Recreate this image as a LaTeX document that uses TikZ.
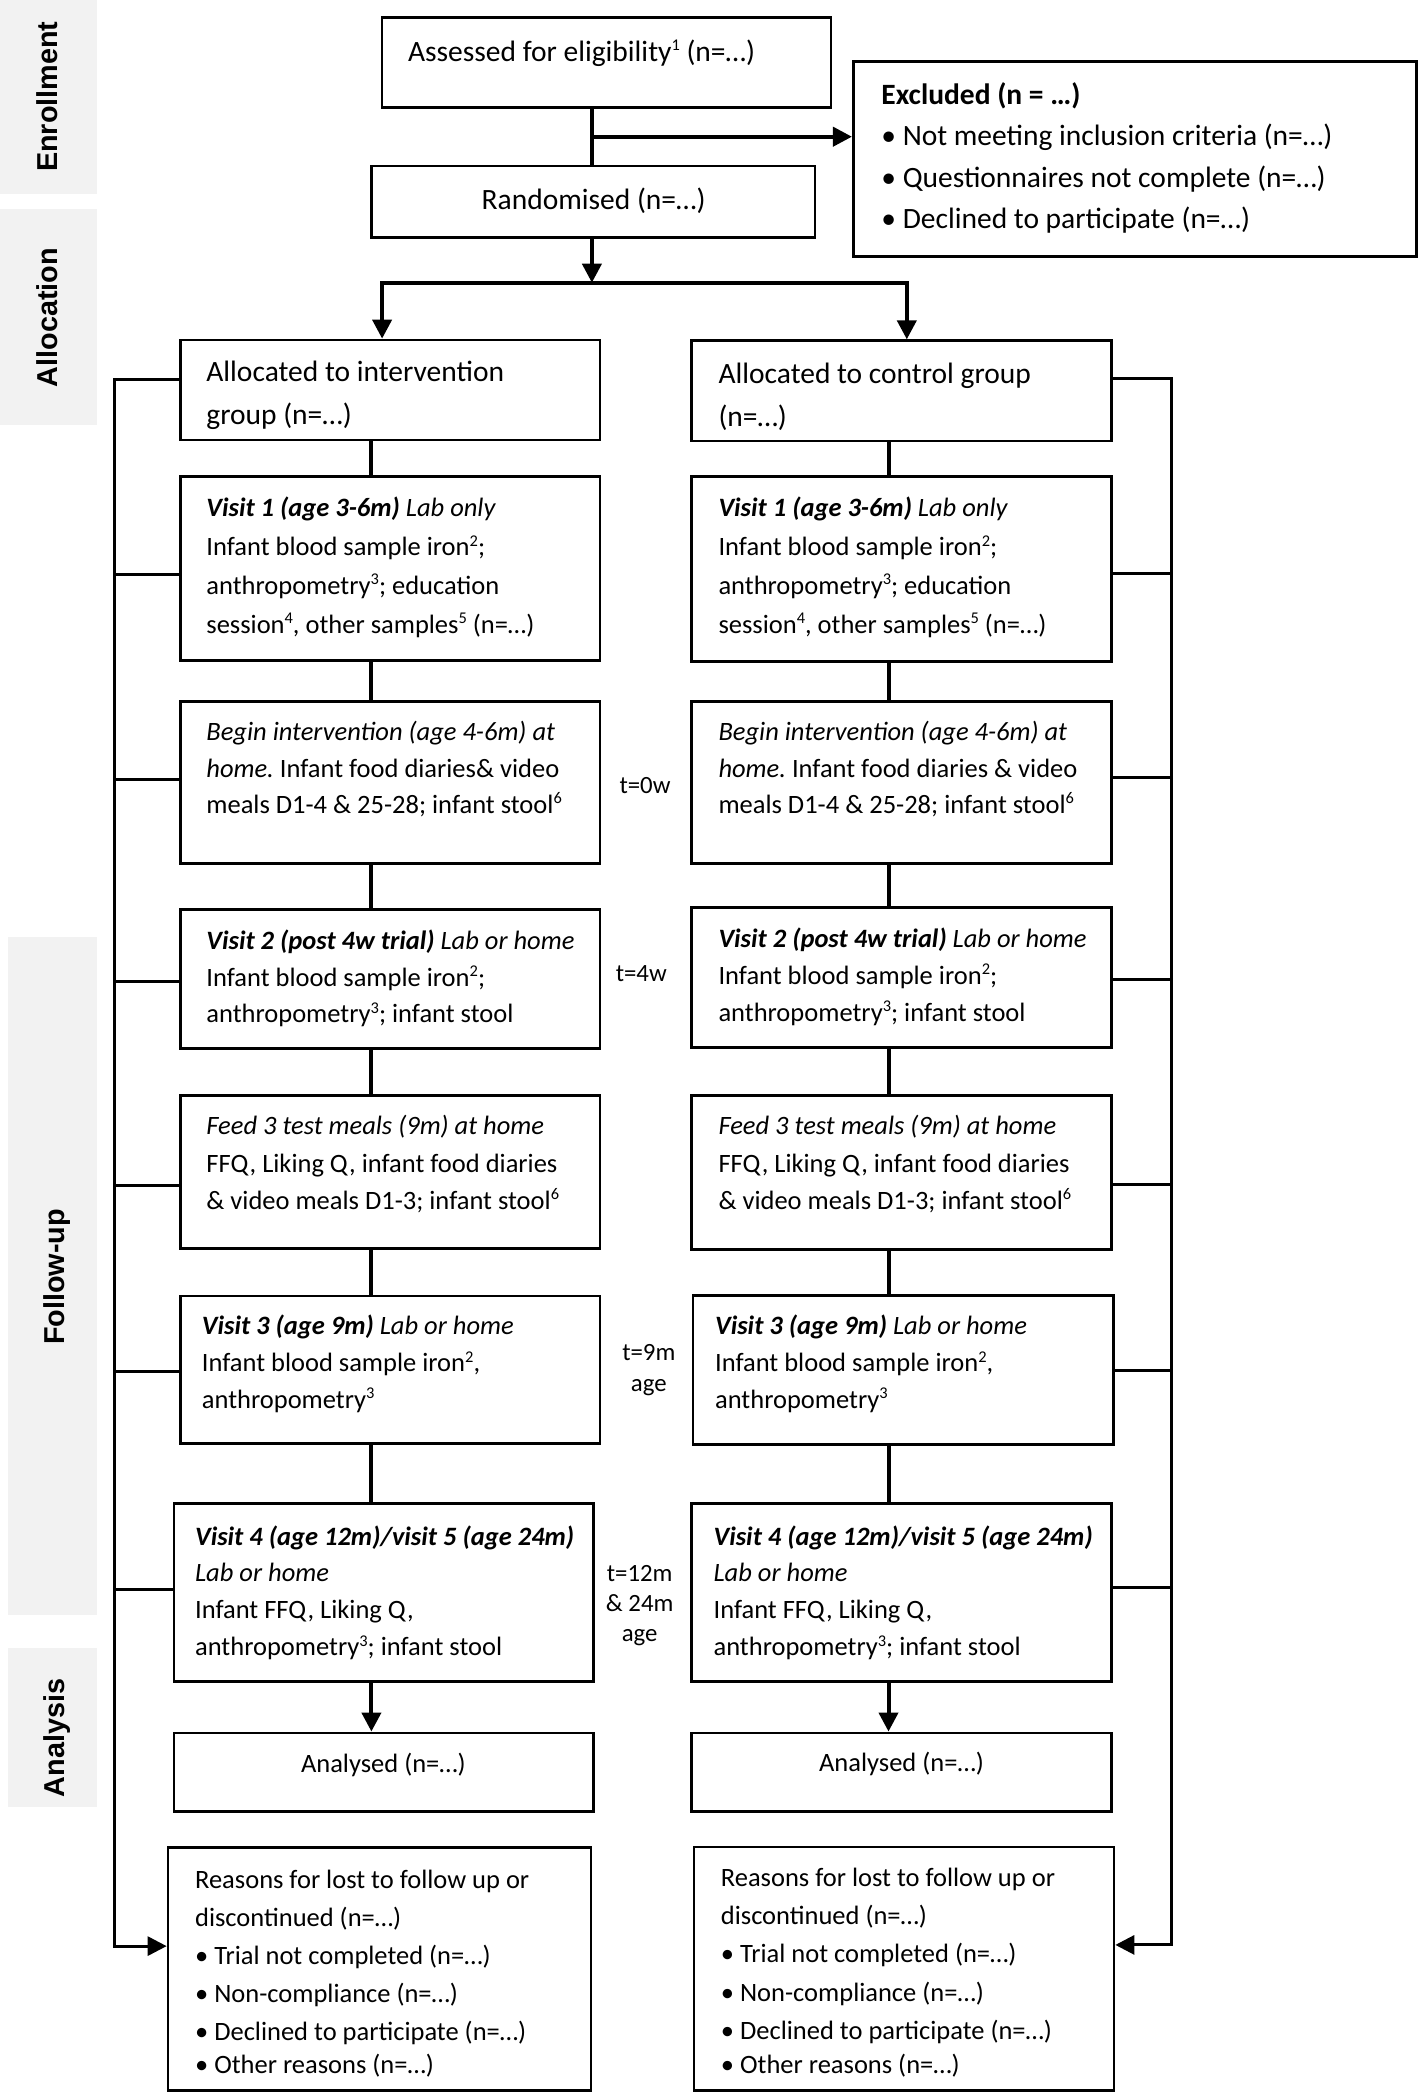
\documentclass[tikz,border=0pt]{standalone}
\usepackage{fontspec}
\setmainfont{Carlito}
\newfontfamily\sidefont{Liberation Sans}
\usetikzlibrary{arrows.meta,fit}
\definecolor{sidegray}{RGB}{242,242,242}
\newcommand\fl{\rule{0pt}{1em}}
\newcommand\su[1]{\raisebox{0.36em}{\fontsize{8.2}{8.2}\selectfont #1}}
\frenchspacing
\begin{document}
\frenchspacing
\begin{tikzpicture}[x=0.5pt,y=-0.5pt,
  box/.style={draw=black, line width=1.35pt, inner sep=0pt, rectangle},
  band/.style={fill=sidegray, draw=none, inner sep=0pt, rectangle},
  sidetxt/.style={font=\sidefont\bfseries\fontsize{14.4}{17}\selectfont, rotate=90, anchor=base, inner sep=0pt},
  bigt/.style={font=\fontsize{14.75}{#1}\selectfont\frenchspacing, align=left, anchor=north west, inner sep=0pt},
  medt/.style={font=\fontsize{13.25}{#1}\selectfont\frenchspacing, align=left, anchor=north west, inner sep=0pt},
  bigc/.style={font=\fontsize{14.75}{17}\selectfont, anchor=base, inner sep=0pt},
  medc/.style={font=\fontsize{13.25}{16}\selectfont, anchor=base, inner sep=0pt},
  timet/.style={font=\fontsize{12.4}{#1}\selectfont, align=center, anchor=north, inner sep=0pt},
  conn/.style={line width=2pt},
  tip/.tip={Triangle[width=9.5pt,length=9.5pt]},
  arr/.style={line width=2pt, -tip},
  fb/.style={line width=1.5pt},
  fbarr/.style={line width=1.5pt, -tip},
]
\useasboundingbox (0,0) rectangle (1419,2093);

% side bands
\node[band, fit={(0,0)(96.5,194)}] (enb) {};
\node[sidetxt] (ent) at (57,96.7) {Enrollment};
\node[band, fit={(0,209)(96.5,425)}] (alb) {};
\node[sidetxt] (alt) at (57,317.5) {Allocation};
\node[band, fit={(7.7,937)(96.5,1615)}] (fub) {};
\node[sidetxt] (fut) at (64,1277) {Follow-up};
\node[band, fit={(7.7,1648)(97.4,1807)}] (anb) {};
\node[sidetxt] (ant) at (64,1738) {Analysis};

% boxes
\node[box, fit={(382,17.7)(831,107.7)}] (as) {};
\node[box, fit={(853.3,61.7)(1416.5,256.7)}] (ex) {};
\node[box, fit={(371.8,166)(815,237.7)}] (ra) {};
\node[box, fit={(180.3,340)(600,440)}] (ia) {};
\node[box, fit={(691.5,340.7)(1111.7,441)}] (ca) {};
\node[box, fit={(180.3,476.6)(600,660.5)}] (iv1) {};
\node[box, fit={(691.5,476.6)(1111.7,661.5)}] (cv1) {};
\node[box, fit={(180.3,701.2)(600,863.2)}] (ib) {};
\node[box, fit={(691.5,701.2)(1111.7,863.5)}] (cb) {};
\node[box, fit={(180.3,909.3)(600,1048.3)}] (iv2) {};
\node[box, fit={(691.5,907.8)(1111.7,1047.3)}] (cv2) {};
\node[box, fit={(180.3,1095.2)(600,1248.3)}] (ifd) {};
\node[box, fit={(691.5,1095.2)(1111.7,1249.4)}] (cfd) {};
\node[box, fit={(180.3,1296.1)(600,1443.4)}] (iv3) {};
\node[box, fit={(692.9,1295.3)(1113.5,1444.2)}] (cv3) {};
\node[box, fit={(173.9,1503.3)(593.8,1681.7)}] (iv4) {};
\node[box, fit={(691.5,1503.3)(1111.6,1681.7)}] (cv4) {};
\node[box, fit={(173.9,1732.9)(593.8,1811.6)}] (ian) {};
\node[box, fit={(691.5,1732.9)(1111.6,1811.6)}] (can) {};
\node[box, fit={(168,1847.7)(591,2090.5)}] (ir) {};
\node[box, fit={(693.9,1846.9)(1114,2090.5)}] (cr) {};

% texts
\node[bigt=21.5pt] (ast) at (407.6,31.6) {\fl Assessed for eligibility\su{1} (n=…)};
\node[bigt=20.55pt] (ext) at (881,74.9) {\fl\textbf{Excluded (n = …)}\\• Not meeting inclusion criteria (n=…)\\• Questionnaires not complete (n=…)\\• Declined to participate (n=…)};
\node[bigc] (rat) at (593.6,209.7) {Randomised (n=…)};
\node[bigt=21.5pt] (iat) at (206,352) {\fl Allocated to intervention\\group (n=…)};
\node[bigt=21.5pt] (cat) at (718.1,353.9) {\fl Allocated to control group\\(n=…)};
\node[medt=19.35pt] (iv1t) at (206,490) {\fl\textbf{\textit{Visit 1 (age 3-6m)}} \textit{Lab only}\\Infant blood sample iron\su{2};\\anthropometry\su{3}; education\\session\su{4}, other samples\su{5} (n=…)};
\node[medt=19.35pt] (cv1t) at (718.1,490) {\fl\textbf{\textit{Visit 1 (age 3-6m)}} \textit{Lab only}\\Infant blood sample iron\su{2};\\anthropometry\su{3}; education\\session\su{4}, other samples\su{5} (n=…)};
\node[medt=18.2pt] (ibt) at (206,713.8) {\fl\textit{Begin intervention (age 4-6m) at}\\\textit{home.} Infant food diaries\& video\\meals D1-4 \& 25-28; infant stool\su{6}};
\node[medt=18.2pt] (cbt) at (718.1,713.8) {\fl\textit{Begin intervention (age 4-6m) at}\\\textit{home.} Infant food diaries \& video\\meals D1-4 \& 25-28; infant stool\su{6}};
\node[medt=18.45pt] (iv2t) at (206,922.2) {\fl\textbf{\textit{Visit 2 (post 4w trial)}} \textit{Lab or home}\\Infant blood sample iron\su{2};\\anthropometry\su{3}; infant stool};
\node[medt=18.45pt] (cv2t) at (718.1,920.3) {\fl\textbf{\textit{Visit 2 (post 4w trial)}} \textit{Lab or home}\\Infant blood sample iron\su{2};\\anthropometry\su{3}; infant stool};
\node[medt=18.65pt] (ifdt) at (206,1107.8) {\fl\textit{Feed 3 test meals (9m) at home}\\FFQ, Liking Q, infant food diaries\\\& video meals D1-3; infant stool\su{6}};
\node[medt=18.65pt] (cfdt) at (718.1,1107.8) {\fl\textit{Feed 3 test meals (9m) at home}\\FFQ, Liking Q, infant food diaries\\\& video meals D1-3; infant stool\su{6}};
\node[medt=18.35pt] (iv3t) at (201.5,1308) {\fl\textbf{\textit{Visit 3 (age 9m)}} \textit{Lab or home}\\Infant blood sample iron\su{2},\\anthropometry\su{3}};
\node[medt=18.35pt] (cv3t) at (714.7,1308) {\fl\textbf{\textit{Visit 3 (age 9m)}} \textit{Lab or home}\\Infant blood sample iron\su{2},\\anthropometry\su{3}};
\node[medt=18.45pt] (iv4t) at (194.7,1518.1) {\fl\textbf{\textit{Visit 4 (age 12m)/visit 5 (age 24m)}}\\\textit{Lab or home}\\Infant FFQ, Liking Q,\\anthropometry\su{3}; infant stool};
\node[medt=18.45pt] (cv4t) at (713.2,1518.1) {\fl\textbf{\textit{Visit 4 (age 12m)/visit 5 (age 24m)}}\\\textit{Lab or home}\\Infant FFQ, Liking Q,\\anthropometry\su{3}; infant stool};
\node[medc] (iant) at (383.4,1772.2) {Analysed (n=…)};
\node[medc] (cant) at (901.5,1771.7) {Analysed (n=…)};
\node[medt=18.96pt] (irt) at (194.7,1861.7) {\fl Reasons for lost to follow up or\\discontinued (n=…)\\• Trial not completed (n=…)\\• Non-compliance (n=…)\\• Declined to participate (n=…)\\[-2.15pt]• Other reasons (n=…)};
\node[medt=19.1pt] (crt) at (720.5,1859.6) {\fl Reasons for lost to follow up or\\discontinued (n=…)\\• Trial not completed (n=…)\\• Non-compliance (n=…)\\• Declined to participate (n=…)\\[-2.1pt]• Other reasons (n=…)};

% time labels
\node[timet=15.7pt] (t0) at (645,768.2) {\fl t=0w};
\node[timet=15.7pt] (t4) at (641.3,955.9) {\fl t=4w};
\node[timet=15.7pt] (t9) at (648.8,1334.8) {\fl t=9m\\age};
\node[timet=15.1pt] (t12) at (639.7,1556.2) {\fl t=12m\\\& 24m\\age};

% enrollment / allocation connectors
\coordinate (jx) at (591.9,0);
\coordinate (ej) at (591.9,136.7);
\coordinate (br) at (591.9,282.7);
\coordinate (bl) at (382.1,282.7);
\coordinate (bR) at (906.8,282.7);
\draw[conn] (as.south -| jx) -- (ra.north -| jx);
\draw[arr] (ej) -- (ex.west |- ej);
\draw[arr] (ra.south -| jx) -- (br);
\draw[conn, tip-tip] (ia.north -| bl) -- (bl) -- (bR) -- (ca.north -| bR);

% column connectors
\coordinate (lc) at (371.4,0);
\coordinate (rc) at (888.5,0);
\foreach \a/\b in {ia/iv1, iv1/ib, ib/iv2, iv2/ifd, ifd/iv3, iv3/iv4}
  \draw[conn] (\a.south -| lc) -- (\b.north -| lc);
\foreach \a/\b in {ca/cv1, cv1/cb, cb/cv2, cv2/cfd, cfd/cv3, cv3/cv4}
  \draw[conn] (\a.south -| rc) -- (\b.north -| rc);
\draw[arr] (iv4.south -| lc) -- (ian.north -| lc);
\draw[arr] (cv4.south -| rc) -- (can.north -| rc);

% feedback lines
\coordinate (lf) at (114.4,0);
\coordinate (rf) at (1171.4,0);
\draw[fbarr] (ia.west |- 0,379.5) -- (lf |- 0,379.5) -- (lf |- 0,1946.1) -- (ir.west |- 0,1946.1);
\foreach \n/\y in {iv1/574.9, ib/779.7, iv2/981.1, ifd/1185.1, iv3/1371.9, iv4/1589.4}
  \draw[fb] (\n.west |- 0,\y) -- (lf |- 0,\y);
\draw[fbarr] (ca.east |- 0,378.6) -- (rf |- 0,378.6) -- (rf |- 0,1944.9) -- (cr.east |- 0,1944.9);
\foreach \n/\y in {cv1/573.4, cb/777.8, cv2/979.6, cfd/1184, cv3/1370.7, cv4/1587.4}
  \draw[fb] (\n.east |- 0,\y) -- (rf |- 0,\y);
\end{tikzpicture}
\end{document}
